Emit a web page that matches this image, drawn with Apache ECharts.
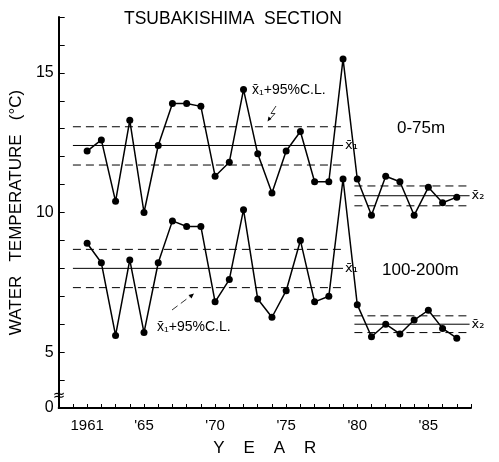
<!DOCTYPE html>
<html>
<head>
<meta charset="utf-8">
<script src="https://cdn.jsdelivr.net/npm/echarts@6/dist/echarts.min.js"></script>
<style>
  html, body { margin: 0; padding: 0; background: #fff; }
  #chart { width: 499px; height: 462px; }
</style>
</head>
<body>
<div id="chart"></div>
<script>
// Annual mean water temperature, Tsubakishima section
const years = [1961, 1962, 1963, 1964, 1965, 1966, 1967, 1968, 1969, 1970,
               1971, 1972, 1973, 1974, 1975, 1976, 1977, 1978, 1979, 1980,
               1981, 1982, 1983, 1984, 1985, 1986, 1987];
// 0-75 m layer
const surfaceTemp = [12.2, 12.6, 10.4, 13.3, 10.0, 12.4, 13.9, 13.9, 13.8, 11.3,
                     11.8, 14.4, 12.1, 10.7, 12.2, 12.9, 11.1, 11.1, 15.5, 11.2,
                     9.9, 11.3, 11.1, 9.9, 10.9, 10.35, 10.55];
// 100-200 m layer
const deepTemp = [8.9, 8.2, 5.6, 8.3, 5.7, 8.2, 9.7, 9.5, 9.5, 6.8,
                  7.6, 10.1, 6.9, 6.25, 7.2, 9.0, 6.8, 7.0, 11.2, 6.7,
                  5.55, 6.0, 5.65, 6.15, 6.5, 5.85, 5.5];

// Two averaging periods: [start, end] years
const period1 = [1960, 1979];
const period2 = [1979.8, 1987.9];
// Period means and 95% confidence limits (period 1, period 2)
const surfaceMean = [12.4, 10.6];
const surfaceUpperCL = [13.07, 10.95];
const surfaceLowerCL = [11.7, 10.24];
const deepMean = [8.0, 6.0];
const deepUpperCL = [8.68, 6.3];
const deepLowerCL = [7.31, 5.7];

// Tick labels
const xTickLabels = { 1961: '1961', 1965: "'65", 1970: "'70", 1975: "'75", 1980: "'80", 1985: "'85" };
const yTickLabels = { 3: '0', 5: '5', 10: '10', 15: '15' };
const meanLabels = ['x\u0304\u2081', 'x\u0304\u2082'];

const FONT = 'Liberation Sans';

function levelLine(period, value, dashed, label) {
  const s = {
    type: 'line',
    data: [[period[0], value], [period[1], value]],
    showSymbol: false, symbol: 'none', silent: true,
    lineStyle: { color: '#000', width: 1, type: dashed ? [8, 5] : 'solid' },
    z: 1
  };
  if (label) {
    s.endLabel = {
      show: true, distance: 2, formatter: label,
      fontSize: 13, fontFamily: 'DejaVu Sans', color: '#000'
    };
  }
  return s;
}

const series = [];
[[surfaceMean, surfaceUpperCL, surfaceLowerCL], [deepMean, deepUpperCL, deepLowerCL]]
  .forEach(([mean, up, lo]) => {
    [period1, period2].forEach((p, i) => {
      series.push(levelLine(p, mean[i], false, meanLabels[i]));
      series.push(levelLine(p, up[i], true));
      series.push(levelLine(p, lo[i], true));
    });
  });

[surfaceTemp, deepTemp].forEach(values => {
  series.push({
    type: 'line',
    data: years.map((y, i) => [y, values[i]]),
    symbol: 'circle', symbolSize: 7,
    itemStyle: { color: '#000' },
    lineStyle: { color: '#000', width: 1.5 },
    z: 3
  });
});

const chart = echarts.init(document.getElementById('chart'), null, { renderer: 'canvas' });
chart.setOption({
  animation: false,
  backgroundColor: '#fff',
  title: {
    text: 'TSUBAKISHIMA  SECTION',
    left: 119, top: 5,
    textStyle: { fontFamily: FONT, fontSize: 17.5, fontWeight: 'normal', color: '#000' }
  },
  grid: { left: 58, right: 28, top: 17, bottom: 50 },
  xAxis: {
    type: 'value', min: 1959, max: 1988, interval: 1,
    name: 'Y    E    A    R', nameLocation: 'middle', nameGap: 32,
    nameTextStyle: { fontFamily: FONT, fontSize: 17, color: '#000' },
    axisLine: { show: true, lineStyle: { color: '#000', width: 2 } },
    axisTick: { show: true, inside: true, length: 4, lineStyle: { color: '#000', width: 1 } },
    axisLabel: {
      fontFamily: FONT, fontSize: 15, color: '#000', margin: 10,
      formatter: v => xTickLabels[v] || ''
    },
    splitLine: { show: false }
  },
  yAxis: {
    type: 'value', min: 3, max: 17, interval: 1,
    name: 'WATER   TEMPERATURE   (°C)', nameLocation: 'middle', nameRotate: 90, nameGap: 26,
    nameTextStyle: { fontFamily: FONT, fontSize: 17, color: '#000' },
    axisLine: { show: true, lineStyle: { color: '#000', width: 2 } },
    axisTick: { show: true, inside: true, length: 6, lineStyle: { color: '#000', width: 1 } },
    axisLabel: {
      fontFamily: FONT, fontSize: 16, color: '#000', margin: 5,
      formatter: v => yTickLabels[v] || ''
    },
    splitLine: { show: false }
  },
  series: series
});

// Annotations: layer names, confidence-limit notes, arrows and the axis break mark
const txt = (x, y, s, size, align) => ({
  type: 'text', x: x, y: y, silent: true, z: 10,
  style: { text: s, fontFamily: FONT, fontSize: size, fill: '#000',
           align: align || 'left', verticalAlign: 'middle' }
});
chart.setOption({
  graphic: [
    txt(397, 128, '0-75m', 17),
    txt(382, 270, '100-200m', 17),
    txt(252, 90, 'x\u0304\u2081+95%C.L.', 14),
    txt(157, 327, 'x\u0304\u2081+95%C.L.', 14),
    {
      type: 'polyline', silent: true, z: 10,
      shape: { points: [[276, 106], [271, 113.5], [275, 113.5], [269, 120]] },
      style: { stroke: '#000', lineWidth: 0.8, fill: null }
    },
    {
      type: 'polygon', silent: true, z: 10,
      shape: { points: [[267.5, 121.5], [268.5, 116.5], [271.5, 119]] },
      style: { fill: '#000' }
    },
    {
      type: 'polyline', silent: true, z: 10,
      shape: { points: [[172, 310], [192, 295]] },
      style: { stroke: '#000', lineWidth: 0.8, lineDash: [7, 4], fill: null }
    },
    {
      type: 'polygon', silent: true, z: 10,
      shape: { points: [[194, 293.5], [188.5, 295], [191.5, 298.5]] },
      style: { fill: '#000' }
    },
    {
      type: 'text', x: 59, y: 396, silent: true, z: 10,
      style: { text: '\u2248', fontFamily: 'DejaVu Sans', fontSize: 15, fill: '#000',
               align: 'center', verticalAlign: 'middle' }
    }
  ]
});
</script>
</body>
</html>
